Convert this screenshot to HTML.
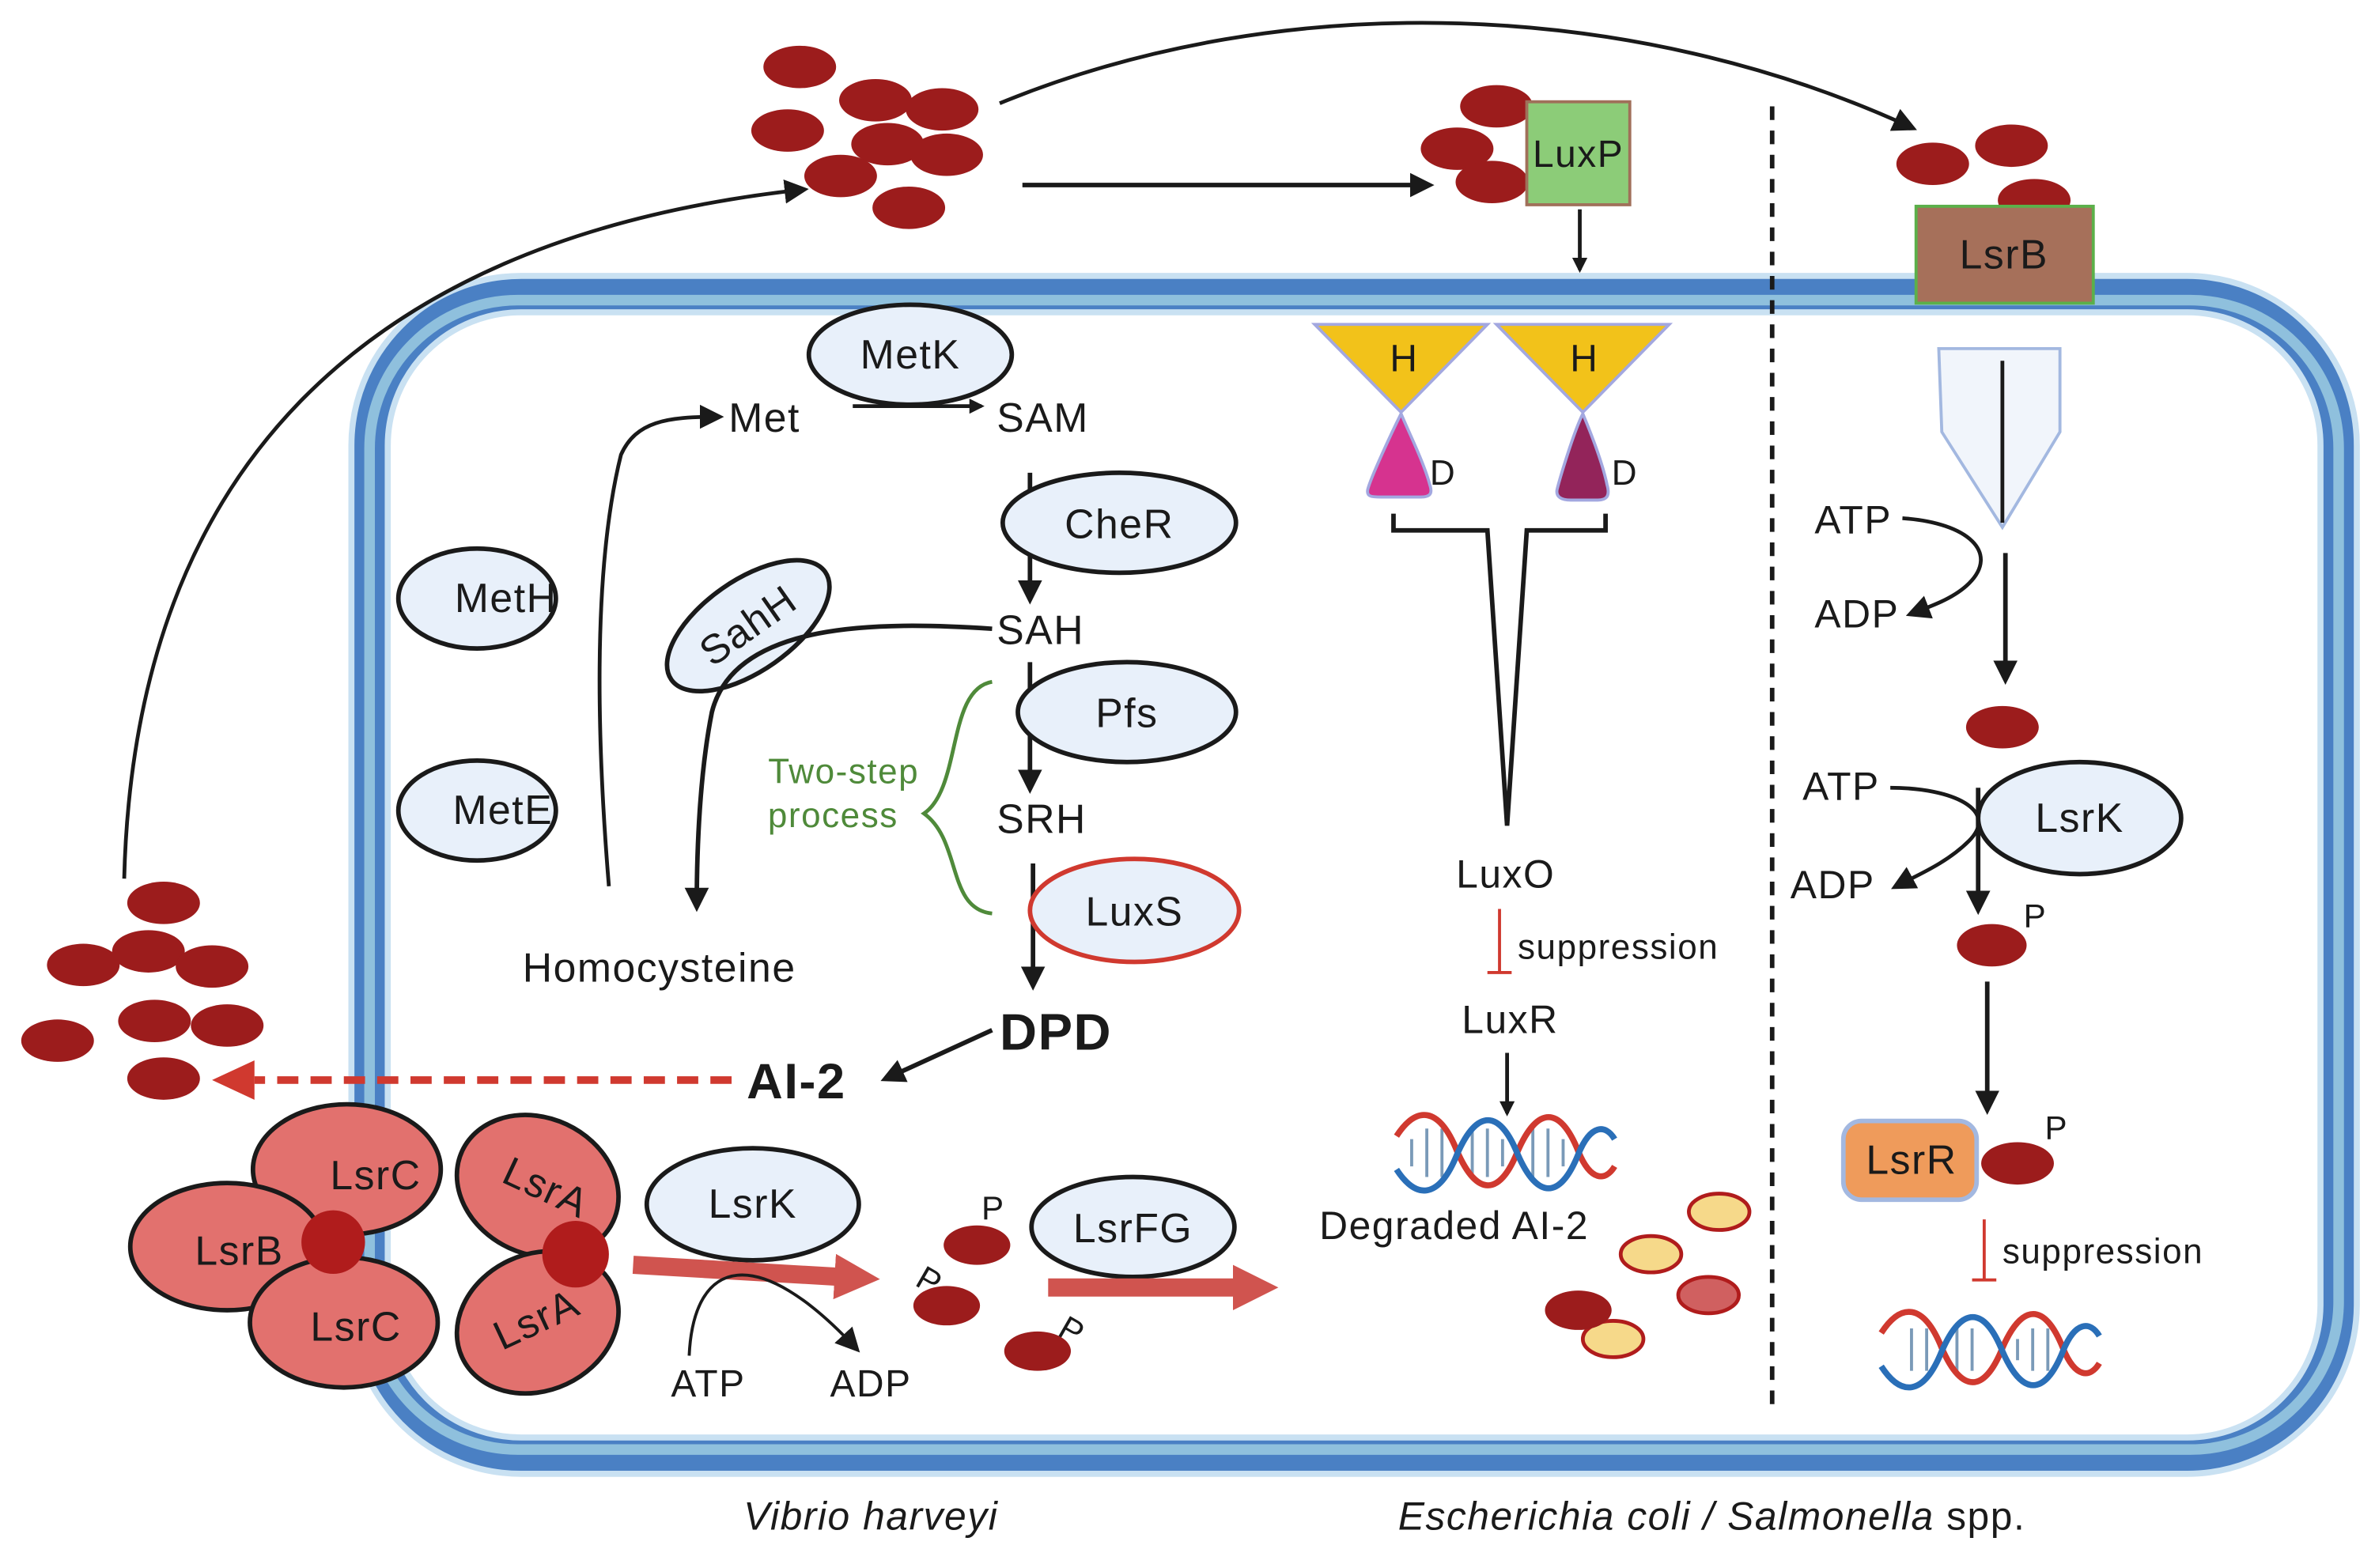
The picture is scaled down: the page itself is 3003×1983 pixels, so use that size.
<!DOCTYPE html>
<html><head><meta charset="utf-8"><style>
html,body{margin:0;padding:0;background:#fff;}
svg{display:block;}
text{font-family:"Liberation Sans",sans-serif;fill:#1a1a1a;letter-spacing:0.8px;}
</style></head><body>
<svg width="3003" height="1983" viewBox="0 0 1568 1035" xmlns="http://www.w3.org/2000/svg">
<defs>
<marker id="ah" markerWidth="10" markerHeight="10" refX="8" refY="5" orient="auto" markerUnits="userSpaceOnUse"><path d="M0,0 L10,5 L0,10 z" fill="#1a1a1a"/></marker>
<marker id="ahb" markerWidth="16" markerHeight="16" refX="12" refY="8" orient="auto" markerUnits="userSpaceOnUse"><path d="M0,0 L16,8 L0,16 z" fill="#1a1a1a"/></marker>
<marker id="ahr" markerWidth="30" markerHeight="30" refX="4" refY="15" orient="auto" markerUnits="userSpaceOnUse"><path d="M0,0 L30,15 L0,30 z" fill="#d0544f"/></marker>
</defs>

<!-- membrane -->
<rect x="244" y="194" width="1300" height="767" rx="100" fill="none" stroke="#c9e1f2" stroke-width="28"/>
<rect x="244" y="194" width="1300" height="767" rx="100" fill="none" stroke="#4a80c4" stroke-width="20"/>
<rect x="244" y="198" width="1300" height="759" rx="98" fill="none" stroke="#8fc0dd" stroke-width="7"/>

<line x1="1170" y1="70" x2="1170" y2="928" stroke="#1a1a1a" stroke-width="3" stroke-dasharray="9,7"/>

<g fill="#9c1c1c">
<ellipse cx="528" cy="44" rx="24" ry="14"/><ellipse cx="578" cy="66" rx="24" ry="14"/><ellipse cx="622" cy="72" rx="24" ry="14"/>
<ellipse cx="520" cy="86" rx="24" ry="14"/><ellipse cx="586" cy="95" rx="24" ry="14"/><ellipse cx="625" cy="102" rx="24" ry="14"/>
<ellipse cx="555" cy="116" rx="24" ry="14"/><ellipse cx="600" cy="137" rx="24" ry="14"/>
</g>
<g fill="#9c1c1c">
<ellipse cx="108" cy="596" rx="24" ry="14"/><ellipse cx="55" cy="637" rx="24" ry="14"/><ellipse cx="98" cy="628" rx="24" ry="14"/><ellipse cx="140" cy="638" rx="24" ry="14"/>
<ellipse cx="102" cy="674" rx="24" ry="14"/><ellipse cx="150" cy="677" rx="24" ry="14"/><ellipse cx="38" cy="687" rx="24" ry="14"/><ellipse cx="108" cy="712" rx="24" ry="14"/>
</g>

<path d="M82,580 C90,260 300,150 530,125" fill="none" stroke="#1a1a1a" stroke-width="2.5" marker-end="url(#ahb)"/>
<path d="M660,68 C850,-10 1080,0 1262,84" fill="none" stroke="#1a1a1a" stroke-width="2.5" marker-end="url(#ahb)"/>
<line x1="675" y1="122" x2="943" y2="122" stroke="#1a1a1a" stroke-width="3" marker-end="url(#ahb)"/>

<g fill="#9c1c1c"><ellipse cx="988" cy="70" rx="24" ry="14"/><ellipse cx="962" cy="98" rx="24" ry="14"/><ellipse cx="985" cy="120" rx="24" ry="14"/></g>
<rect x="1008" y="67" width="68" height="68" fill="#8ccc78" stroke="#a0705a" stroke-width="2"/>
<text x="1042" y="110" font-size="25" text-anchor="middle">LuxP</text>
<line x1="1043" y1="138" x2="1043" y2="178" stroke="#1a1a1a" stroke-width="2.5" marker-end="url(#ah)"/>

<g fill="#9c1c1c"><ellipse cx="1276" cy="108" rx="24" ry="14"/><ellipse cx="1328" cy="96" rx="24" ry="14"/><ellipse cx="1343" cy="132" rx="24" ry="14"/></g>
<rect x="1265" y="136" width="117" height="64" fill="#a6705a" stroke="#5bb04a" stroke-width="2"/>
<text x="1323" y="177" font-size="27" text-anchor="middle">LsrB</text>

<path d="M868,214 L982,214 L925,272 z" fill="#f2c21a" stroke="#a3a8e0" stroke-width="2"/>
<path d="M988,214 L1102,214 L1045,272 z" fill="#f2c21a" stroke="#a3a8e0" stroke-width="2"/>
<text x="927" y="245" font-size="25" text-anchor="middle">H</text>
<text x="1046" y="245" font-size="25" text-anchor="middle">H</text>
<path d="M925,273 C919,285 905,315 903,323 C902,328 906,328 912,328 L938,328 C944,328 946,326 944,320 C940,305 930,285 925,273 z" fill="#d6338f" stroke="#a3a8e0" stroke-width="2"/>
<path d="M1045,273 C1039,285 1030,315 1028,323 C1027,328 1031,330 1037,330 L1055,330 C1061,330 1063,327 1061,320 C1058,305 1050,285 1045,273 z" fill="#93245a" stroke="#a3a8e0" stroke-width="2"/>
<text x="944" y="320" font-size="23">D</text>
<text x="1064" y="320" font-size="23">D</text>
<path d="M920,339 L920,350 L982,350 L995,545 L1008,350 L1060,350 L1060,339" fill="none" stroke="#1a1a1a" stroke-width="3"/>
<text x="994" y="586" font-size="26" text-anchor="middle">LuxO</text>
<line x1="990" y1="600" x2="990" y2="642" stroke="#d0392f" stroke-width="2"/>
<line x1="982" y1="642" x2="998" y2="642" stroke="#d0392f" stroke-width="2"/>
<text x="1002" y="633" font-size="23">suppression</text>
<text x="997" y="682" font-size="26" text-anchor="middle">LuxR</text>
<line x1="995" y1="695" x2="995" y2="735" stroke="#1a1a1a" stroke-width="2.5" marker-end="url(#ah)"/>

<g stroke="#7a9ab8" stroke-width="2">
<line x1="932" y1="752" x2="932" y2="770"/><line x1="942" y1="745" x2="942" y2="777"/><line x1="952" y1="745" x2="952" y2="777"/>
<line x1="972" y1="745" x2="972" y2="777"/><line x1="982" y1="745" x2="982" y2="777"/><line x1="992" y1="752" x2="992" y2="770"/>
<line x1="1012" y1="745" x2="1012" y2="777"/><line x1="1022" y1="745" x2="1022" y2="777"/><line x1="1032" y1="752" x2="1032" y2="770"/>
</g>
<g fill="none" stroke-width="4">
<path d="M922,750 C935,730 950,730 962,760 C975,790 990,790 1002,760 C1015,730 1030,730 1042,760 C1050,780 1060,780 1066,770" stroke="#d0392f"/>
<path d="M922,772 C935,792 950,792 962,762 C975,732 990,732 1002,762 C1015,792 1030,792 1042,762 C1050,742 1060,742 1066,752" stroke="#2a6fb8"/>
</g>
<text x="960" y="818" font-size="26" text-anchor="middle" letter-spacing="1.5">Degraded AI-2</text>
<g stroke="#b01c1c" stroke-width="2.5">
<ellipse cx="1135" cy="800" rx="20" ry="12" fill="#f6d98a"/><ellipse cx="1090" cy="828" rx="20" ry="12" fill="#f6d98a"/>
<ellipse cx="1128" cy="855" rx="20" ry="12" fill="#d06060"/><ellipse cx="1065" cy="884" rx="20" ry="12" fill="#f6d98a"/>
</g>
<ellipse cx="1042" cy="865" rx="22" ry="13" fill="#9c1c1c"/>

<path d="M1280,230 L1360,230 L1360,285 L1322,348 L1282,285 z" fill="#f1f5fb" stroke="#a3b8e0" stroke-width="2"/>
<line x1="1322" y1="238" x2="1322" y2="345" stroke="#1a1a1a" stroke-width="2.5"/>
<text x="1198" y="352" font-size="26">ATP</text>
<text x="1198" y="414" font-size="26">ADP</text>
<path d="M1256,342 C1300,345 1320,365 1300,385 C1290,395 1275,400 1262,405" fill="none" stroke="#1a1a1a" stroke-width="2.5" marker-end="url(#ahb)"/>
<line x1="1324" y1="365" x2="1324" y2="448" stroke="#1a1a1a" stroke-width="3" marker-end="url(#ahb)"/>
<ellipse cx="1322" cy="480" rx="24" ry="14" fill="#9c1c1c"/>
<text x="1190" y="528" font-size="26">ATP</text>
<text x="1182" y="593" font-size="26">ADP</text>
<path d="M1248,520 C1290,520 1320,535 1300,555 C1285,570 1265,578 1252,585" fill="none" stroke="#1a1a1a" stroke-width="2.5" marker-end="url(#ahb)"/>
<line x1="1306" y1="520" x2="1306" y2="600" stroke="#1a1a1a" stroke-width="3" marker-end="url(#ahb)"/>
<ellipse cx="1373" cy="540" rx="67" ry="37" fill="#e8f0fa" stroke="#1a1a1a" stroke-width="3"/>
<text x="1373" y="549" font-size="27" text-anchor="middle">LsrK</text>
<ellipse cx="1315" cy="624" rx="23" ry="14" fill="#9c1c1c"/>
<text x="1336" y="612" font-size="22">P</text>
<line x1="1312" y1="648" x2="1312" y2="732" stroke="#1a1a1a" stroke-width="3" marker-end="url(#ahb)"/>
<rect x="1217" y="740" width="88" height="52" rx="12" fill="#ef9b5b" stroke="#a3b8e0" stroke-width="3"/>
<text x="1262" y="775" font-size="27" text-anchor="middle">LsrR</text>
<ellipse cx="1332" cy="768" rx="24" ry="14" fill="#9c1c1c"/>
<text x="1350" y="752" font-size="22">P</text>
<line x1="1310" y1="805" x2="1310" y2="845" stroke="#d0392f" stroke-width="2"/>
<line x1="1302" y1="845" x2="1318" y2="845" stroke="#d0392f" stroke-width="2"/>
<text x="1322" y="834" font-size="23">suppression</text>
<g stroke="#7a9ab8" stroke-width="2">
<line x1="1262" y1="877" x2="1262" y2="905"/><line x1="1272" y1="877" x2="1272" y2="905"/><line x1="1292" y1="877" x2="1292" y2="905"/><line x1="1302" y1="877" x2="1302" y2="905"/>
<line x1="1342" y1="877" x2="1342" y2="905"/><line x1="1352" y1="877" x2="1352" y2="905"/><line x1="1332" y1="884" x2="1332" y2="898"/>
</g>
<g fill="none" stroke-width="4">
<path d="M1242,880 C1255,860 1270,860 1282,890 C1295,920 1310,920 1322,890 C1335,860 1350,860 1362,890 C1370,910 1380,910 1386,900" stroke="#d0392f"/>
<path d="M1242,902 C1255,922 1270,922 1282,892 C1295,862 1310,862 1322,892 C1335,922 1350,922 1362,892 C1370,872 1380,872 1386,882" stroke="#2a6fb8"/>
</g>

<ellipse cx="601" cy="234" rx="67" ry="33" fill="#e8f0fa" stroke="#1a1a1a" stroke-width="3"/>
<text x="601" y="243" font-size="27" text-anchor="middle">MetK</text>
<text x="481" y="285" font-size="27">Met</text>
<line x1="563" y1="268" x2="648" y2="268" stroke="#1a1a1a" stroke-width="2.5" marker-end="url(#ah)"/>
<text x="658" y="285" font-size="27">SAM</text>
<line x1="680" y1="312" x2="680" y2="395" stroke="#1a1a1a" stroke-width="3" marker-end="url(#ahb)"/>
<ellipse cx="739" cy="345" rx="77" ry="33" fill="#e8f0fa" stroke="#1a1a1a" stroke-width="3"/>
<text x="739" y="355" font-size="27" text-anchor="middle">CheR</text>
<text x="658" y="425" font-size="27">SAH</text>
<ellipse cx="315" cy="395" rx="52" ry="33" fill="#e8f0fa" stroke="#1a1a1a" stroke-width="3"/>
<text x="334" y="404" font-size="27" text-anchor="middle">MetH</text>
<ellipse cx="315" cy="535" rx="52" ry="33" fill="#e8f0fa" stroke="#1a1a1a" stroke-width="3"/>
<text x="332" y="544" font-size="27" text-anchor="middle">MetE</text>
<g transform="rotate(-35 494 413)"><ellipse cx="494" cy="413" rx="62" ry="30" fill="#e8f0fa" stroke="#1a1a1a" stroke-width="3"/>
<text x="494" y="422" font-size="27" text-anchor="middle">SahH</text></g>
<path d="M655,415 C580,410 485,410 470,470 C462,510 460,560 460,598" fill="none" stroke="#1a1a1a" stroke-width="3" marker-end="url(#ahb)"/>
<path d="M402,585 C395,500 390,380 410,300 C420,278 440,275 474,275" fill="none" stroke="#1a1a1a" stroke-width="2.5" marker-end="url(#ahb)"/>
<text x="345" y="648" font-size="27" letter-spacing="1.2">Homocysteine</text>
<line x1="680" y1="437" x2="680" y2="520" stroke="#1a1a1a" stroke-width="3" marker-end="url(#ahb)"/>
<ellipse cx="744" cy="470" rx="72" ry="33" fill="#e8f0fa" stroke="#1a1a1a" stroke-width="3"/>
<text x="744" y="480" font-size="27" text-anchor="middle">Pfs</text>
<text x="658" y="550" font-size="27">SRH</text>
<path d="M655,450 C625,455 635,520 610,537 C635,555 625,600 655,603" fill="none" stroke="#4f8a3a" stroke-width="2.5"/>
<text x="557" y="517" font-size="23" text-anchor="middle" style="fill:#4f8a3a">Two-step</text>
<text x="550" y="546" font-size="23" text-anchor="middle" style="fill:#4f8a3a">process</text>
<line x1="682" y1="570" x2="682" y2="650" stroke="#1a1a1a" stroke-width="3" marker-end="url(#ahb)"/>
<ellipse cx="749" cy="601" rx="69" ry="34" fill="#e8f0fa" stroke="#d0392f" stroke-width="3"/>
<text x="749" y="611" font-size="27" text-anchor="middle">LuxS</text>
<text x="660" y="693" font-size="34" font-weight="bold">DPD</text>
<line x1="655" y1="680" x2="585" y2="712" stroke="#1a1a1a" stroke-width="3" marker-end="url(#ahb)"/>
<text x="493" y="725" font-size="33" font-weight="bold">AI-2</text>
<line x1="483" y1="713" x2="168" y2="713" stroke="#d0392f" stroke-width="5" stroke-dasharray="14,8"/>
<path d="M140,713 L168,700 L168,726 z" fill="#d0392f"/>

<g stroke="#1a1a1a" stroke-width="3" fill="#e2716e">
<ellipse cx="229" cy="772" rx="62" ry="43"/>
<ellipse cx="150" cy="823" rx="64" ry="42"/>
<ellipse cx="227" cy="873" rx="62" ry="43"/>
<ellipse cx="355" cy="783" rx="55" ry="45" transform="rotate(25 355 783)"/>
<ellipse cx="355" cy="873" rx="55" ry="45" transform="rotate(-25 355 873)"/>
</g>
<text x="248" y="785" font-size="27" text-anchor="middle">LsrC</text>
<text x="158" y="835" font-size="27" text-anchor="middle">LsrB</text>
<text x="235" y="885" font-size="27" text-anchor="middle">LsrC</text>
<text x="360" y="793" font-size="27" text-anchor="middle" transform="rotate(25 360 785)">LsrA</text>
<text x="355" y="880" font-size="27" text-anchor="middle" transform="rotate(-25 355 873)">LsrA</text>
<circle cx="220" cy="820" r="21" fill="#b01c1c"/>
<circle cx="380" cy="828" r="22" fill="#b01c1c"/>
<ellipse cx="497" cy="795" rx="70" ry="37" fill="#e8f0fa" stroke="#1a1a1a" stroke-width="3"/>
<text x="497" y="804" font-size="27" text-anchor="middle">LsrK</text>
<line x1="418" y1="835" x2="555" y2="843" stroke="#d0544f" stroke-width="12" marker-end="url(#ahr)"/>
<path d="M455,895 C458,830 500,820 565,890" fill="none" stroke="#1a1a1a" stroke-width="2" marker-end="url(#ahb)"/>
<text x="443" y="922" font-size="25">ATP</text>
<text x="548" y="922" font-size="25">ADP</text>
<g fill="#9c1c1c"><ellipse cx="645" cy="822" rx="22" ry="13"/><ellipse cx="625" cy="862" rx="22" ry="13"/><ellipse cx="685" cy="892" rx="22" ry="13"/></g>
<text x="648" y="805" font-size="22">P</text>
<text x="606" y="852" font-size="22" transform="rotate(30 612 845)">P</text>
<text x="700" y="885" font-size="22" transform="rotate(30 706 878)">P</text>
<ellipse cx="748" cy="810" rx="67" ry="33" fill="#e8f0fa" stroke="#1a1a1a" stroke-width="3"/>
<text x="748" y="820" font-size="27" text-anchor="middle">LsrFG</text>
<line x1="692" y1="850" x2="818" y2="850" stroke="#d0544f" stroke-width="12" marker-end="url(#ahr)"/>

<text x="575" y="1010" font-size="26" font-style="italic" text-anchor="middle" letter-spacing="1.2">Vibrio harveyi</text>
<text x="923" y="1010" font-size="26" letter-spacing="1"><tspan font-style="italic">Escherichia coli / Salmonella</tspan> spp.</text>
</svg>
</body></html>
